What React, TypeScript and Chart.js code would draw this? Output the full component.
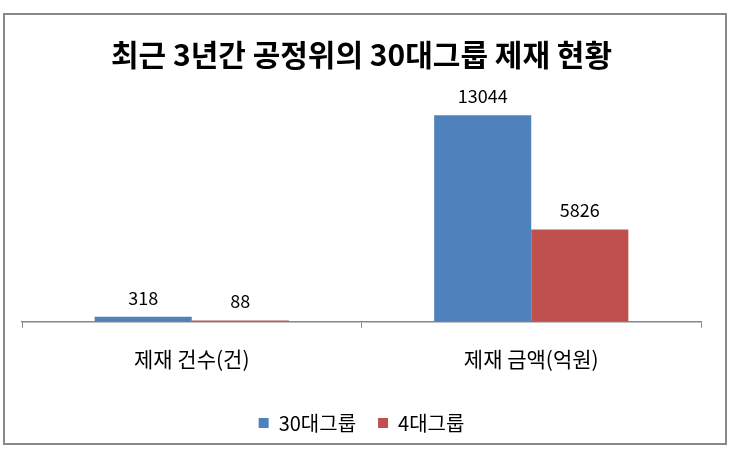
import React, { useEffect, useRef } from "react";
import { Chart, registerables } from "chart.js";

Chart.register(...registerables);

const categories = ["제재 건수(건)", "제재 금액(억원)"];
const series30 = [318, 13044];
const series4 = [88, 5826];
const seriesNames = ["30대그룹", "4대그룹"];
const titleText = "최근 3년간 공정위의 30대그룹 제재 현황";

const FONT = "'Noto Sans CJK KR', 'Noto Sans', sans-serif";

const frameAndLabels = {
  id: "frameAndLabels",
  beforeDraw(chart: any) {
    const ctx = chart.ctx;
    ctx.save();
    ctx.fillStyle = "#ffffff";
    ctx.fillRect(0, 0, chart.width, chart.height);
    ctx.strokeStyle = "#898989";
    ctx.lineWidth = 2;
    ctx.strokeRect(4, 14, 722, 430);
    ctx.restore();
  },
  afterDatasetsDraw(chart: any) {
    const ctx = chart.ctx;
    ctx.save();
    ctx.fillStyle = "#000000";
    ctx.font = `18px ${FONT}`;
    ctx.textAlign = "center";
    ctx.textBaseline = "middle";
    chart.data.datasets.forEach((ds: any, i: number) => {
      const meta = chart.getDatasetMeta(i);
      meta.data.forEach((bar: any, j: number) => {
        ctx.fillText(String(ds.data[j]), bar.x, bar.y - 19);
      });
    });
    ctx.restore();
  },
};

export default function App() {
  const ref = useRef<HTMLCanvasElement>(null);
  useEffect(() => {
    document.body.style.margin = "0";
    const chart = new Chart(ref.current!, {
      type: "bar",
      data: {
        labels: categories,
        datasets: [
          { label: seriesNames[0], data: series30, backgroundColor: "#4F81BD", categoryPercentage: 0.572, barPercentage: 1 },
          { label: seriesNames[1], data: series4, backgroundColor: "#C0504D", categoryPercentage: 0.572, barPercentage: 1 },
        ],
      },
      options: {
        animation: false,
        responsive: false,
        layout: { padding: { left: 22, right: 30, top: 21, bottom: 7 } },
        plugins: {
          title: {
            display: true,
            text: titleText,
            color: "#000",
            font: { family: FONT, size: 30, weight: "bold" },
            padding: { top: 16, bottom: 27 },
          },
          legend: {
            display: true,
            position: "bottom",
            labels: {
              color: "#000",
              font: { family: FONT, size: 20 },
              boxWidth: 10,
              boxHeight: 10,
              padding: 22,
            },
          },
          tooltip: { enabled: false },
        },
        scales: {
          x: {
            grid: { drawOnChartArea: false, tickLength: 6, color: "#868686", offset: true },
            border: { color: "#868686", width: 1.5 },
            ticks: { color: "#000", font: { family: FONT, size: 21 }, padding: 19 },
          },
          y: { display: false, min: 0, max: 14000 },
        },
      },
      plugins: [frameAndLabels],
    });
    return () => chart.destroy();
  }, []);
  return (
    <div style={{ position: "absolute", left: 0, top: 0, width: 731, height: 450 }}>
      <canvas ref={ref} width={731} height={450} style={{ display: "block" }} />
    </div>
  );
}
